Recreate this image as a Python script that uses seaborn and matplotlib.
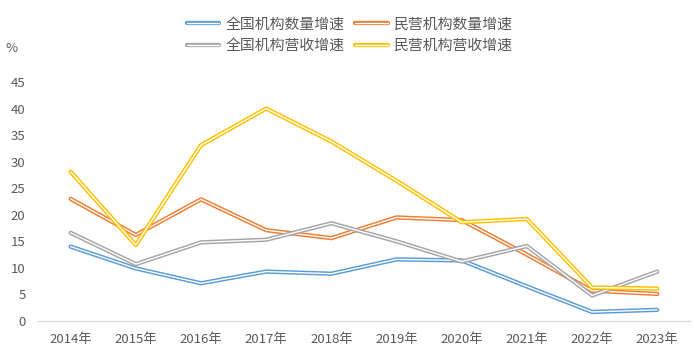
import numpy as np
import pandas as pd
import seaborn as sns
from matplotlib import pyplot as plt
from matplotlib import patheffects as pe
from matplotlib.lines import Line2D

# data (%)
years = [2014, 2015, 2016, 2017, 2018, 2019, 2020, 2021, 2022, 2023]
year_labels = [str(y) + '年' for y in years]
series_names = ['全国机构数量增速', '民营机构数量增速', '全国机构营收增速', '民营机构营收增速']
national_count = [14.0, 9.9, 7.1, 9.3, 8.9, 11.6, 11.4, 6.5, 1.7, 2.1]
private_count = [23.0, 16.2, 22.9, 17.1, 15.6, 19.5, 19.0, 12.5, 5.7, 5.1]
national_revenue = [16.6, 10.7, 14.8, 15.3, 18.4, 15.0, 11.2, 14.1, 4.8, 9.3]
private_revenue = [28.1, 14.3, 33.1, 40.0, 33.8, 26.4, 18.6, 19.2, 6.3, 6.1]
colors = ['#5B9BD5', '#ED7D31', '#A5A5A5', '#FFC000']

#long form table for seaborn
df = pd.DataFrame({
    'idx': list(range(len(years))) * 4,
    'value': national_count + private_count + national_revenue + private_revenue,
    'series': np.repeat(series_names, len(years)),
})

sns.set_style('white')
plt.rcParams['font.family'] = ['Noto Sans CJK SC', 'DejaVu Sans']

fig = plt.figure(figsize=(6.94, 3.62), dpi=100)
ax = fig.add_axes([0.0548, 0.1133, 0.9392, 0.6602])

sns.lineplot(data=df, x='idx', y='value', hue='series', hue_order=series_names,
             palette=colors, ax=ax, legend=False, linewidth=1.0, sort=False)

# excel style double line: thick coloured stroke with thin white centre
for line, c in zip(ax.lines, colors):
    line.set_color('white')
    line.set_path_effects([pe.Stroke(linewidth=3.1, foreground=c), pe.Normal()])

ax.set_xlim(-0.5, len(years) - 0.5)
ax.set_ylim(0, 45)
ax.set_yticks(range(0, 50, 5))
ax.set_xticks(range(len(years)))
ax.set_xticklabels(year_labels)
ax.set_xlabel('')
ax.set_ylabel('')
ax.tick_params(axis='both', length=0, labelsize=9.5, colors='#595959')
ax.tick_params(axis='x', pad=9)
ax.tick_params(axis='y', pad=9)
for s in ['left', 'right', 'top']:
    ax.spines[s].set_visible(False)
ax.spines['bottom'].set_color('#D9D9D9')
ax.spines['bottom'].set_linewidth(1)

fig.text(0.017, 1 - 48 / 362, '%', fontsize=9.5, color='#595959', ha='center', va='center')

# legend filled row by row like excel
order = [0, 2, 1, 3]
handles = [Line2D([0], [0], color='white', linewidth=1.0,
                  path_effects=[pe.Stroke(linewidth=3.1, foreground=colors[i]), pe.Normal()])
           for i in order]
leg = fig.legend(handles, [series_names[i] for i in order], loc='upper center',
                 bbox_to_anchor=(0.504, 0.989), ncol=2, frameon=False, fontsize=10.7,
                 handlelength=2.2, columnspacing=0.75, handletextpad=0.4, labelspacing=0.5)
for t in leg.get_texts():
    t.set_color('#595959')

plt.savefig('out.png', dpi=100)
plt.close()
